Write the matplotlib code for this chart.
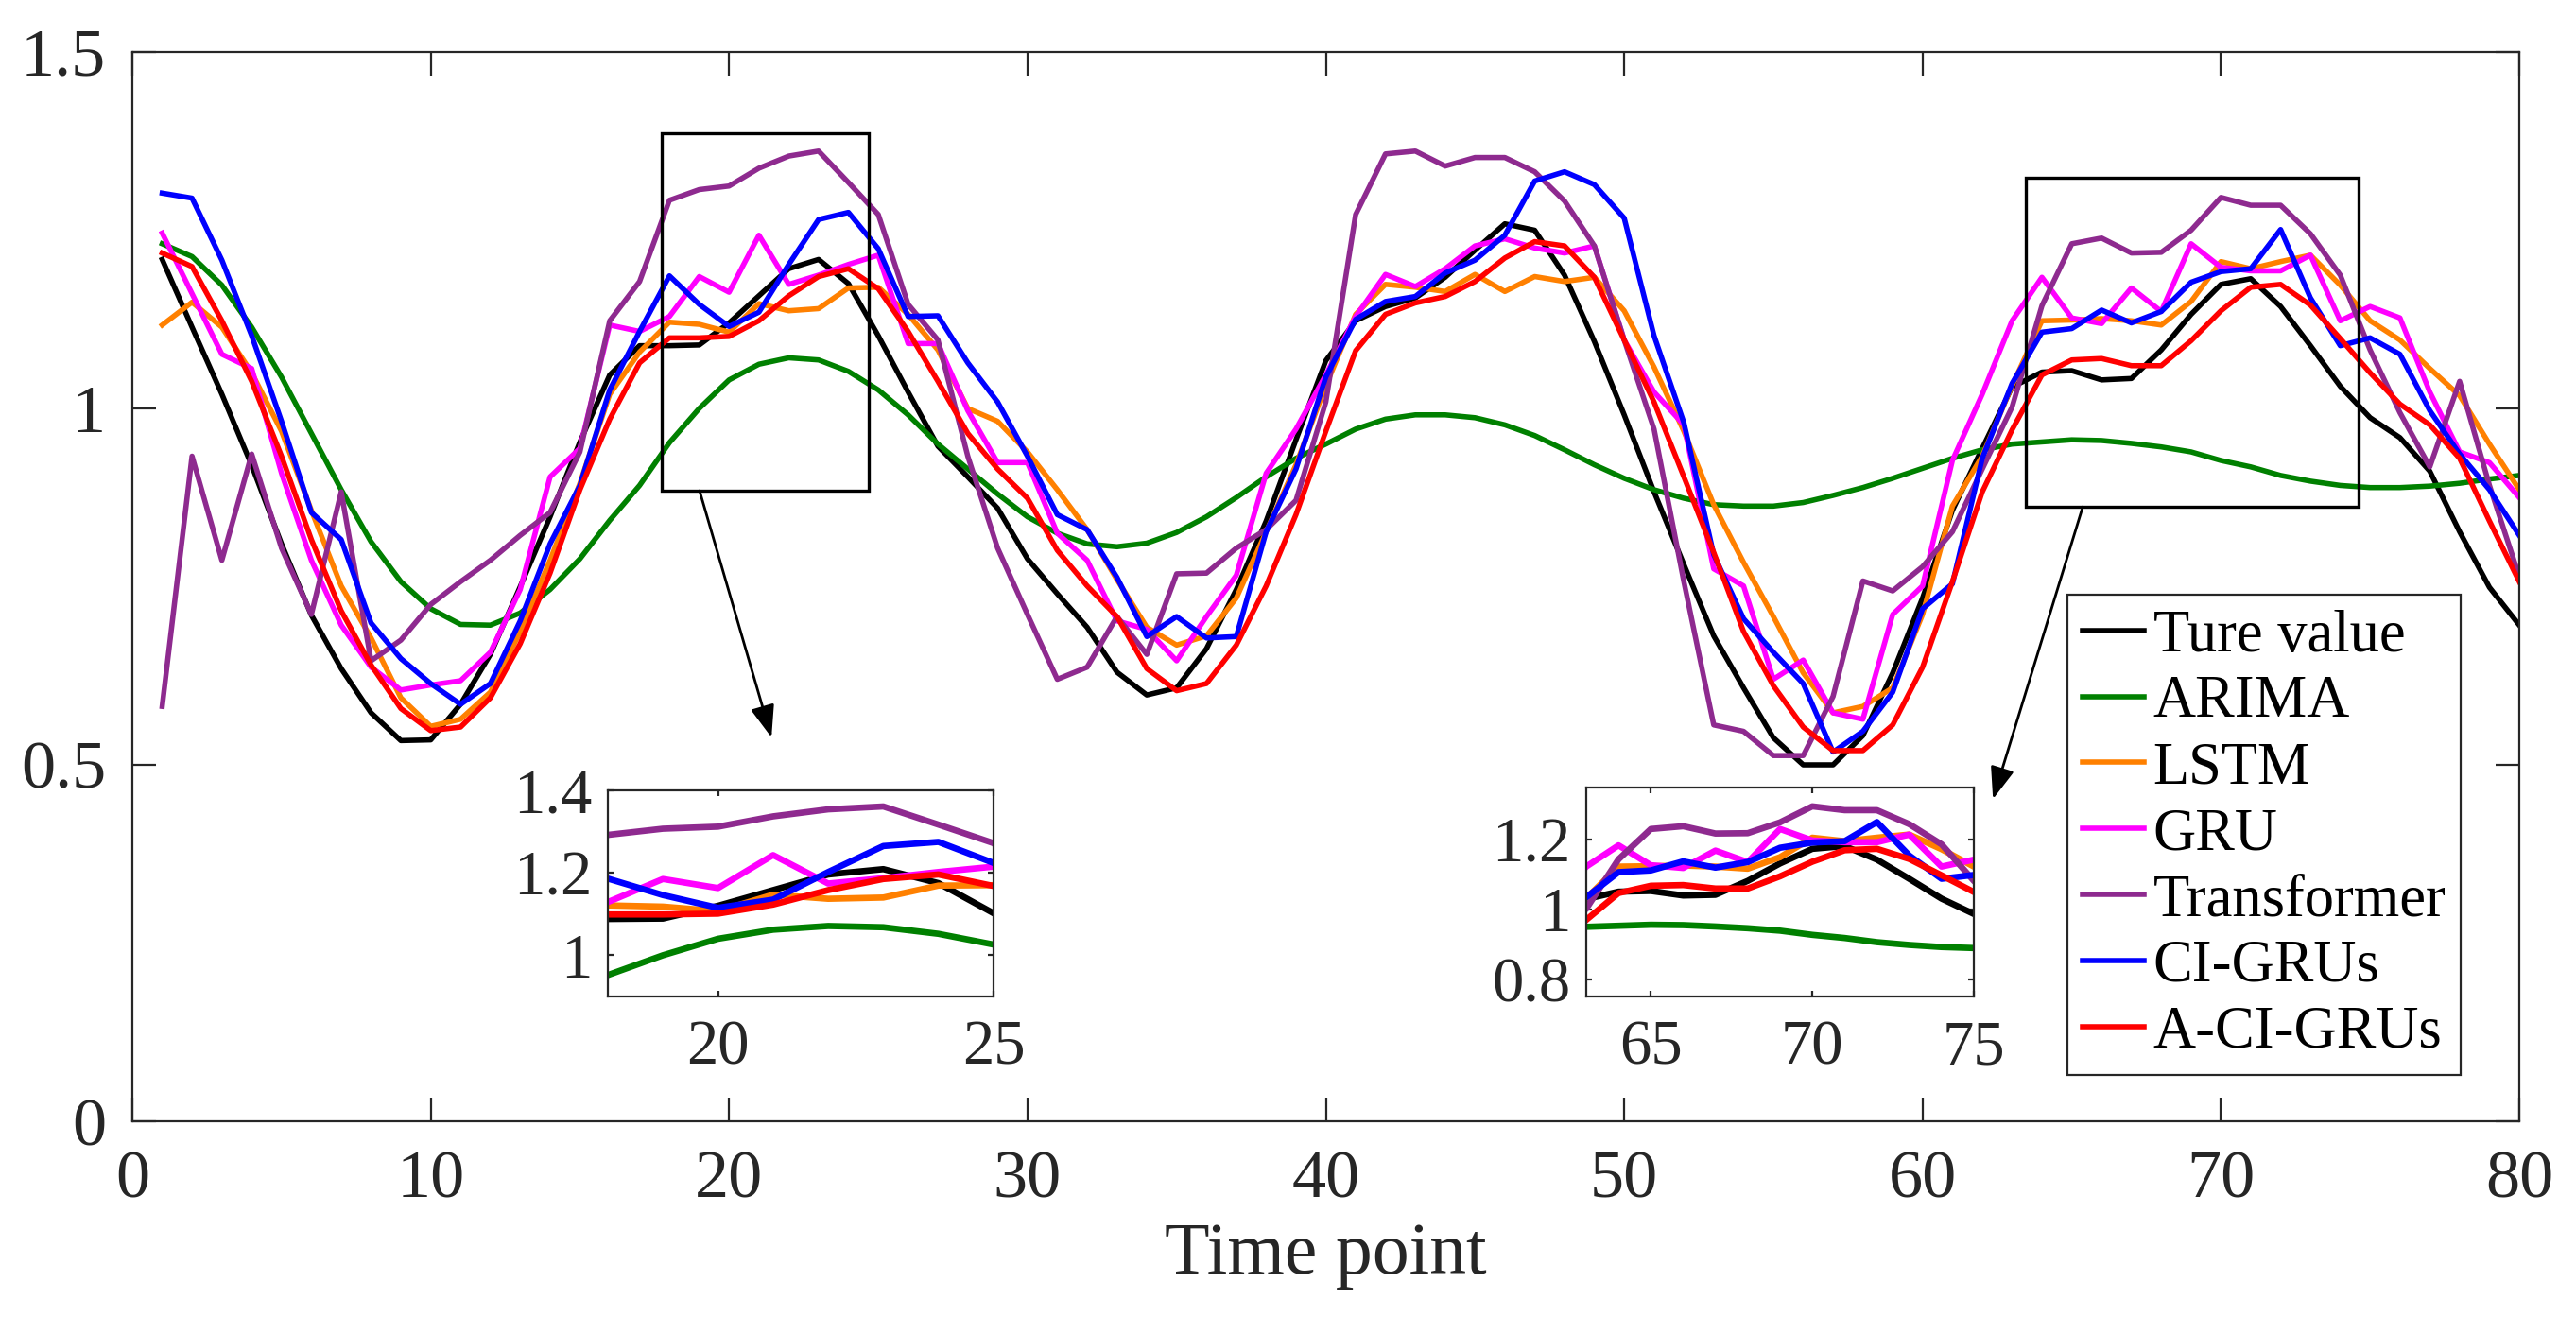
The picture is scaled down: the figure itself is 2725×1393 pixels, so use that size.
import numpy as np
import matplotlib
matplotlib.use('Agg')
import matplotlib.pyplot as plt
from matplotlib.patches import Rectangle

plt.rcParams['font.family'] = ['Liberation Serif', 'DejaVu Serif']

# time axis
time_points = np.arange(1, 81)

# series
true_value = [1.209, 1.114, 1.02, 0.92, 0.81, 0.71, 0.635, 0.573, 0.534, 0.535,
              0.585, 0.655, 0.75, 0.848, 0.953, 1.047, 1.088, 1.088, 1.089, 1.12,
              1.158, 1.196, 1.209, 1.175, 1.102, 1.023, 0.947, 0.904, 0.86, 0.789,
              0.74, 0.693, 0.63, 0.598, 0.608, 0.663, 0.746, 0.842, 0.956, 1.067,
              1.123, 1.143, 1.155, 1.184, 1.222, 1.259, 1.25, 1.187, 1.094, 0.991,
              0.883, 0.781, 0.681, 0.608, 0.538, 0.5, 0.5, 0.541, 0.629, 0.734,
              0.857, 0.944, 1.03, 1.051, 1.053, 1.04, 1.042, 1.082, 1.132, 1.174,
              1.182, 1.143, 1.088, 1.031, 0.987, 0.959, 0.912, 0.827, 0.749, 0.696]
arima = [1.231, 1.213, 1.173, 1.114, 1.044, 0.965, 0.886, 0.813, 0.757, 0.719,
         0.697, 0.696, 0.713, 0.746, 0.789, 0.843, 0.892, 0.952, 1.0, 1.04,
         1.062, 1.071, 1.068, 1.052, 1.026, 0.991, 0.95, 0.915, 0.88, 0.848,
         0.825, 0.81, 0.806, 0.811, 0.826, 0.848, 0.875, 0.904, 0.93, 0.95,
         0.971, 0.985, 0.991, 0.991, 0.987, 0.977, 0.962, 0.942, 0.921, 0.902,
         0.886, 0.874, 0.865, 0.863, 0.863, 0.868, 0.878, 0.889, 0.902, 0.916,
         0.93, 0.942, 0.95, 0.953, 0.956, 0.955, 0.951, 0.946, 0.939, 0.927,
         0.918, 0.906, 0.898, 0.892, 0.889, 0.889, 0.891, 0.895, 0.901, 0.906]
lstm = [1.117, 1.149, 1.114, 1.05, 0.968, 0.857, 0.751, 0.678, 0.594, 0.554,
        0.564, 0.602, 0.687, 0.787, 0.895, 1.02, 1.079, 1.121, 1.118, 1.107,
        1.147, 1.137, 1.14, 1.169, 1.17, 1.132, 1.082, 1.0, 0.982, 0.939,
        0.886, 0.83, 0.76, 0.693, 0.668, 0.681, 0.734, 0.827, 0.921, 1.032,
        1.132, 1.174, 1.17, 1.164, 1.188, 1.164, 1.185, 1.178, 1.184, 1.137,
        1.058, 0.968, 0.865, 0.784, 0.708, 0.629, 0.573, 0.582, 0.608, 0.711,
        0.863, 0.933, 1.032, 1.123, 1.124, 1.126, 1.123, 1.117, 1.15, 1.206,
        1.196, 1.206, 1.215, 1.173, 1.123, 1.096, 1.056, 1.018, 0.95, 0.886]
gru = [1.246, 1.161, 1.076, 1.056, 0.909, 0.787, 0.696, 0.637, 0.605, 0.612,
       0.618, 0.658, 0.746, 0.904, 0.944, 1.117, 1.108, 1.129, 1.185, 1.163,
       1.243, 1.174, 1.187, 1.202, 1.215, 1.091, 1.091, 0.997, 0.924, 0.924,
       0.825, 0.787, 0.702, 0.69, 0.646, 0.708, 0.766, 0.909, 0.971, 1.047,
       1.129, 1.188, 1.171, 1.196, 1.228, 1.238, 1.225, 1.218, 1.228, 1.096,
       1.023, 0.977, 0.775, 0.751, 0.62, 0.647, 0.573, 0.564, 0.711, 0.751,
       0.927, 1.02, 1.123, 1.184, 1.127, 1.119, 1.169, 1.136, 1.231, 1.198,
       1.193, 1.193, 1.215, 1.123, 1.143, 1.127, 1.023, 0.939, 0.924, 0.875]
transformer = [0.582, 0.933, 0.787, 0.936, 0.804, 0.711, 0.883, 0.646, 0.675, 0.725,
               0.757, 0.787, 0.822, 0.854, 0.939, 1.123, 1.178, 1.292, 1.307, 1.312,
               1.337, 1.354, 1.361, 1.317, 1.272, 1.146, 1.096, 0.933, 0.804, 0.711,
               0.62, 0.637, 0.708, 0.655, 0.768, 0.769, 0.804, 0.83, 0.871, 1.009,
               1.272, 1.357, 1.361, 1.34, 1.352, 1.352, 1.332, 1.291, 1.228, 1.096,
               0.971, 0.757, 0.556, 0.547, 0.513, 0.513, 0.596, 0.758, 0.744, 0.778,
               0.827, 0.915, 1.002, 1.144, 1.231, 1.239, 1.218, 1.219, 1.25, 1.296,
               1.285, 1.285, 1.245, 1.187, 1.082, 0.994, 0.918, 1.038, 0.892, 0.764]
ci_grus = [1.302, 1.295, 1.208, 1.102, 0.982, 0.854, 0.816, 0.699, 0.649, 0.614,
           0.585, 0.614, 0.702, 0.81, 0.892, 1.026, 1.108, 1.186, 1.146, 1.115,
           1.135, 1.202, 1.265, 1.275, 1.224, 1.129, 1.13, 1.064, 1.009, 0.933,
           0.851, 0.83, 0.763, 0.68, 0.708, 0.678, 0.68, 0.827, 0.915, 1.044,
           1.125, 1.15, 1.157, 1.19, 1.208, 1.243, 1.319, 1.332, 1.314, 1.267,
           1.102, 0.98, 0.795, 0.705, 0.658, 0.614, 0.518, 0.547, 0.602, 0.719,
           0.754, 0.93, 1.035, 1.107, 1.112, 1.138, 1.12, 1.136, 1.177, 1.192,
           1.196, 1.251, 1.155, 1.088, 1.099, 1.076, 0.997, 0.936, 0.886, 0.822]
a_ci_grus = [1.218, 1.199, 1.123, 1.038, 0.933, 0.816, 0.716, 0.64, 0.579, 0.548,
             0.553, 0.594, 0.67, 0.769, 0.886, 0.985, 1.064, 1.099, 1.099, 1.101,
             1.123, 1.158, 1.185, 1.196, 1.168, 1.108, 1.038, 0.965, 0.915, 0.874,
             0.801, 0.751, 0.708, 0.635, 0.604, 0.614, 0.668, 0.751, 0.851, 0.968,
             1.081, 1.132, 1.148, 1.157, 1.178, 1.211, 1.234, 1.228, 1.184, 1.096,
             1.009, 0.904, 0.798, 0.687, 0.611, 0.553, 0.52, 0.52, 0.556, 0.637,
             0.757, 0.883, 0.97, 1.047, 1.068, 1.07, 1.06, 1.06, 1.095, 1.137,
             1.17, 1.174, 1.145, 1.098, 1.05, 1.006, 0.977, 0.93, 0.842, 0.757]

labels = ['Ture value', 'ARIMA', 'LSTM', 'GRU', 'Transformer', 'CI-GRUs', 'A-CI-GRUs']
colors = ['#000000', '#008000', '#FF8000', '#FF00FF', '#8E2A8F', '#0000FF', '#FF0000']
series = [true_value, arima, lstm, gru, transformer, ci_grus, a_ci_grus]

axis_gray = '#262626'

fig = plt.figure(figsize=(13.625, 6.965), dpi=200)
ax = fig.add_axes([0.05138, 0.14860, 0.92661, 0.81192])

for vals, lab, col in zip(series, labels, colors):
    ax.plot(time_points, vals, color=col, lw=2.0, label=lab)

ax.set_xlim(0, 80)
ax.set_ylim(0, 1.5)
ax.set_xticks(np.arange(0, 81, 10))
ax.set_yticks([0, 0.5, 1, 1.5])
ax.set_yticklabels(['0', '0.5', '1', '1.5'])
ax.tick_params(direction='in', length=9, width=0.8, top=True, right=True,
               labelsize=26, colors=axis_gray)
ax.tick_params(axis='x', pad=11)
ax.tick_params(axis='y', pad=10)
for sp in ax.spines.values():
    sp.set_color(axis_gray)
    sp.set_linewidth(0.8)
ax.set_xlabel('Time point', fontsize=28, color=axis_gray, labelpad=4)

# zoom boxes
ax.add_patch(Rectangle((17.74, 0.8846), 6.94, 0.5014, fill=False, ec='k', lw=1.2, zorder=5))
ax.add_patch(Rectangle((63.47, 0.862), 11.13, 0.4616, fill=False, ec='k', lw=1.2, zorder=5))

arrow_kw = dict(arrowstyle='-|>,head_length=0.4,head_width=0.15', color='k', lw=1.0,
                mutation_scale=26, shrinkA=0, shrinkB=0)
ax.annotate('', xy=(21.42, 0.5385), xytext=(19.01, 0.8846), arrowprops=arrow_kw)
ax.annotate('', xy=(62.36, 0.452), xytext=(65.37, 0.862), arrowprops=arrow_kw)

leg = ax.legend(loc='upper right', bbox_to_anchor=(0.9552, 0.5485),
                bbox_transform=fig.transFigure, fontsize=22.5, frameon=True,
                fancybox=False, framealpha=1, edgecolor=axis_gray, borderaxespad=0,
                handlelength=1.05, handletextpad=0.15, labelspacing=0.19, borderpad=0.25)
leg.get_frame().set_linewidth(0.8)
for line in leg.get_lines():
    line.set_linewidth(2.0)

# inset axes
insets = [
    ([0.23596, 0.24336, 0.14972, 0.15650], (18, 25), (0.9, 1.4), [20, 25],
     [1, 1.2, 1.4], ['1', '1.2', '1.4']),
    ([0.61578, 0.24336, 0.15046, 0.15865], (63, 75), (0.75, 1.35), [65, 70, 75],
     [0.8, 1, 1.2], ['0.8', '1', '1.2']),
]
for pos, xl, yl, xt, yt, ytl in insets:
    iax = fig.add_axes(pos)
    for vals, col in zip(series, colors):
        iax.plot(time_points, vals, color=col, lw=2.4)
    iax.set_xlim(*xl)
    iax.set_ylim(*yl)
    iax.set_xticks(xt)
    iax.set_yticks(yt)
    iax.set_yticklabels(ytl)
    iax.tick_params(direction='in', length=2.2, width=0.8, top=True, right=True,
                    labelsize=24, colors=axis_gray)
    iax.tick_params(axis='x', pad=9)
    iax.tick_params(axis='y', pad=6)
    for sp in iax.spines.values():
        sp.set_color(axis_gray)
        sp.set_linewidth(0.8)

fig.savefig('out.png', dpi=200)
